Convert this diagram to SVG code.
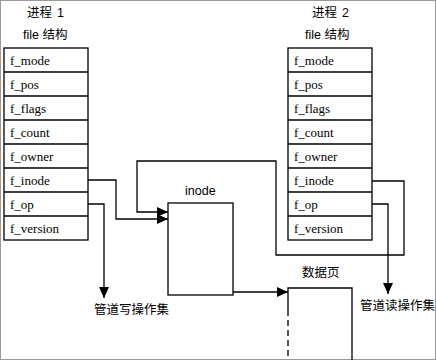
<svg xmlns="http://www.w3.org/2000/svg" width="436" height="360" viewBox="0 0 436 360">
<style>
.t{font-family:"Liberation Sans","Noto Sans CJK SC",sans-serif;font-size:12.5px;fill:#000}
.f{font-family:"Liberation Serif",serif;font-size:13px;fill:#000}
.box{fill:#fff;stroke:#000;stroke-width:1.3}
.ln{fill:none;stroke:#000;stroke-width:1.3}
</style>
<defs>
<marker id="ah" markerWidth="11" markerHeight="10" refX="11" refY="5" orient="auto" markerUnits="userSpaceOnUse">
<path d="M0,0 L11,5 L0,10 Z" fill="#000"/>
</marker>
</defs>
<rect x="0.5" y="0.5" width="435" height="359" fill="#fff" stroke="#999"/>
<g id="proc1">
<text class="t" x="27" y="17">进程<tspan dx="5">1</tspan></text>
<text class="t" x="23" y="39">file 结构</text>
<rect class="box" x="4" y="48" width="84" height="192"/>
<path class="ln" d="M4,72H88M4,96H88M4,120H88M4,144H88M4,168H88M4,192H88M4,216H88"/>
<text class="f" x="10" y="65">f_mode</text>
<text class="f" x="10" y="89">f_pos</text>
<text class="f" x="10" y="113">f_flags</text>
<text class="f" x="10" y="137">f_count</text>
<text class="f" x="10" y="161">f_owner</text>
<text class="f" x="10" y="185">f_inode</text>
<text class="f" x="10" y="209">f_op</text>
<text class="f" x="10" y="233">f_version</text>
</g>
<g id="proc2">
<text class="t" x="312" y="17">进程<tspan dx="5">2</tspan></text>
<text class="t" x="305" y="39">file 结构</text>
<rect class="box" x="288" y="48" width="84" height="192"/>
<path class="ln" d="M288,72H372M288,96H372M288,120H372M288,144H372M288,168H372M288,192H372M288,216H372"/>
<text class="f" x="294" y="65">f_mode</text>
<text class="f" x="294" y="89">f_pos</text>
<text class="f" x="294" y="113">f_flags</text>
<text class="f" x="294" y="137">f_count</text>
<text class="f" x="294" y="161">f_owner</text>
<text class="f" x="294" y="185">f_inode</text>
<text class="f" x="294" y="209">f_op</text>
<text class="f" x="294" y="233">f_version</text>
</g>
<g id="inode">
<text class="t" x="185" y="195">inode</text>
<rect class="box" x="168" y="203" width="65" height="92"/>
</g>
<g id="datapage">
<text class="t" x="302" y="277">数据页</text>
<path class="ln" d="M288,310V288H352V360"/>
<path class="ln" d="M288,310V360" stroke-dasharray="6,4"/>
</g>
<g id="writeops">
<text class="t" x="94" y="314">管道写操作集</text>
</g>
<g id="readops">
<text class="t" x="360" y="310">管道读操作集</text>
</g>
<g id="connectors">
<path class="ln" d="M88,180H116V219H168" marker-end="url(#ah)"/>
<path class="ln" d="M372,181H404V255H276V161H137V212H168" marker-end="url(#ah)"/>
<path class="ln" d="M88,204H104V298" marker-end="url(#ah)"/>
<path class="ln" d="M372,204H388V294" marker-end="url(#ah)"/>
<path class="ln" d="M233,292H288" marker-end="url(#ah)"/>
</g>
</svg>
